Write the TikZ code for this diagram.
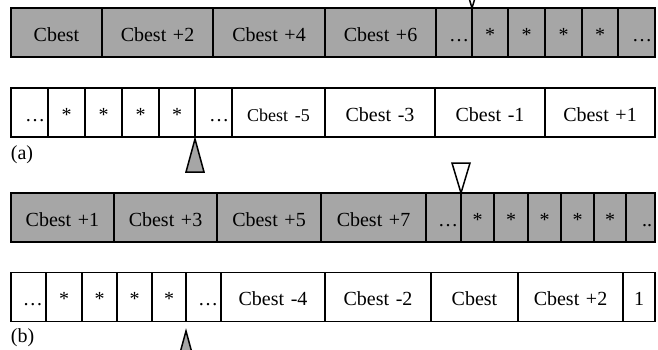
\documentclass[tikz,border=0pt]{standalone}
\usepackage{fontspec}
\setmainfont{Liberation Serif}
\usetikzlibrary{positioning}
\definecolor{cellgray}{RGB}{166,166,166}

\begin{document}
\begin{tikzpicture}[x=1pt, y=-1pt, line width=1.8pt,
    cell/.style={draw, outer sep=0pt, inner xsep=3pt, inner ysep=0pt,
      minimum height=49pt, text height=18pt, text depth=1pt,
      align=center, font=\fontsize{20}{22}\selectfont},
    full/.style={cell, fill=cellgray},
    fulldot/.style={full, align=right},
    empty/.style={cell, fill=white},
    emptydot/.style={empty, align=right},
    ptr/.style={draw, line width=1.5pt},
    tag/.style={anchor=base west, inner sep=0pt, font=\fontsize{20}{22}\selectfont}]
  \useasboundingbox (0,0) rectangle (658,349);

  % row (a), top
  \coordinate (a0) at (11,32.5);
  \foreach \w/\t/\s [count=\i, remember=\i as \j (initially 0)] in
    {91/Cbest/full, 111/Cbest +2/full, 112/Cbest +4/full, 111/Cbest +6/full,
     36/\dots/fulldot, 36/*/full, 37/*/full, 37/*/full, 36/*/full, 37/\dots/fulldot}
  {
    \pgfmathsetmacro\tw{\w-6}
    \node[\s, text width=\tw pt] (a\i) [right=0pt of a\j] {\t};
  }

  % row (a), bottom
  \coordinate (b0) at (11,112.5);
  \foreach \w/\t/\s [count=\i, remember=\i as \j (initially 0)] in
    {37/\dots/emptydot, 37/*/empty, 37/*/empty, 37/*/empty, 36/*/empty,
     37/\dots/emptydot, 93/\fontsize{18}{20}\selectfont Cbest -5/empty,
     110/Cbest -3/empty, 110/Cbest -1/empty, 110/Cbest +1/empty}
  {
    \pgfmathsetmacro\tw{\w-6}
    \node[\s, text width=\tw pt] (b\i) [right=0pt of b\j] {\t};
  }

  % row (b), top
  \coordinate (c0) at (11,217.5);
  \foreach \w/\t/\s [count=\i, remember=\i as \j (initially 0)] in
    {103/Cbest +1/full, 103/Cbest +3/full, 104/Cbest +5/full, 105/Cbest +7/full,
     35/\dots/fulldot, 33/*/full, 34/*/full, 33/*/full, 33/*/full, 32/*/full,
     29/../fulldot}
  {
    \pgfmathsetmacro\tw{\w-6}
    \node[\s, text width=\tw pt] (c\i) [right=0pt of c\j] {\t};
  }

  % row (b), bottom
  \coordinate (d0) at (11,297);
  \foreach \w/\t/\s [count=\i, remember=\i as \j (initially 0)] in
    {35/\dots/emptydot, 36/*/empty, 35/*/empty, 35/*/empty, 34/*/empty,
     35/\dots/emptydot, 104/Cbest -4/empty, 106/Cbest -2/empty, 87/Cbest/empty,
     105/Cbest +2/empty, 32/1/empty}
  {
    \pgfmathsetmacro\tw{\w-6}
    \node[\s, text width=\tw pt] (d\i) [right=0pt of d\j] {\t};
  }

  \node[tag] (lbla) at (10,159) {(a)};
  \node[tag] (lblb) at (10,342) {(b)};

  % pointers
  \draw[ptr, fill=white] (a5.north east) -- ++(-9,-30) -- ++(18,0) -- cycle;
  \draw[ptr, fill=cellgray] ([yshift=-2pt]b5.south east) -- ++(-9,33) -- ++(18,0) -- cycle;
  \draw[ptr, fill=white] (c5.north east) -- ++(-9,-30) -- ++(18,0) -- cycle;
  \draw[ptr, fill=cellgray] ([yshift=-9.5pt]d5.south east) -- ++(-9,33) -- ++(18,0) -- cycle;
\end{tikzpicture}
\end{document}
